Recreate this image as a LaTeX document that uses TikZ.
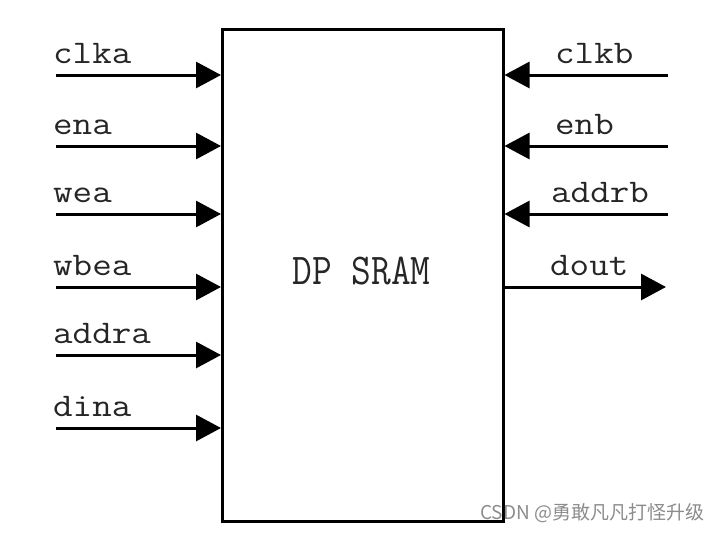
\documentclass[tikz,border=0pt]{standalone}
\usepackage{fontspec}
\newfontfamily\cjk{Noto Sans CJK SC}
\usetikzlibrary{arrows.meta}
\newcommand{\lbltext}[1]{\scalebox{1.15}[1]{\fontsize{33}{36}\selectfont\ttfamily #1}}
\newcommand{\titletext}[1]{\scalebox{0.87}[1]{\fontsize{44}{48}\selectfont\ttfamily #1}}
\tikzset{
  sig/.style={line width=3pt,-{Triangle[length=25pt,width=26pt]}},
  lbl/.style={anchor=base west,inner sep=0pt,text=black!85},
}
\begin{document}
\begin{tikzpicture}[x=1pt,y=-1pt]
\useasboundingbox[fill=white] (0,0) rectangle (726,533);
\node[draw,line width=2.5pt,minimum width=281pt,minimum height=492pt,inner sep=0pt,anchor=north west] (box) at (221,28) {};
\node[inner sep=0pt,text=black!85] (title) at (361.5,271.5) {\titletext{DP SRAM}};
% left inputs
\foreach \n/\t/\y in {a/clka/75, b/ena/146, c/wea/214, d/wbea/287, e/addra/355, f/dina/428}{
  \coordinate (l\n) at (56,\y);
  \coordinate (lb\n) at (box.west |- l\n);
  \draw[sig] (l\n) -- (lb\n);
  \node[lbl] (t\n) at (53,\y-12) {\lbltext{\t}};
}
% right inputs
\foreach \n/\t/\y/\x in {a/clkb/75/555, b/enb/146/555, c/addrb/214/551}{
  \coordinate (r\n) at (668,\y);
  \coordinate (rb\n) at (box.east |- r\n);
  \draw[sig] (r\n) -- (rb\n);
  \node[lbl] (u\n) at (\x,\y-12) {\lbltext{\t}};
}
% output
\coordinate (ro) at (666,287);
\coordinate (rbo) at (box.east |- ro);
\draw[sig] (rbo) -- (ro);
\node[lbl] (uo) at (550,275) {\lbltext{dout}};
% watermark
\node[anchor=base west,inner sep=0pt,text=black!45] (wm) at (480,519) {\cjk\fontsize{19}{22}\selectfont CSDN @勇敢凡凡打怪升级};
\end{tikzpicture}
\end{document}
